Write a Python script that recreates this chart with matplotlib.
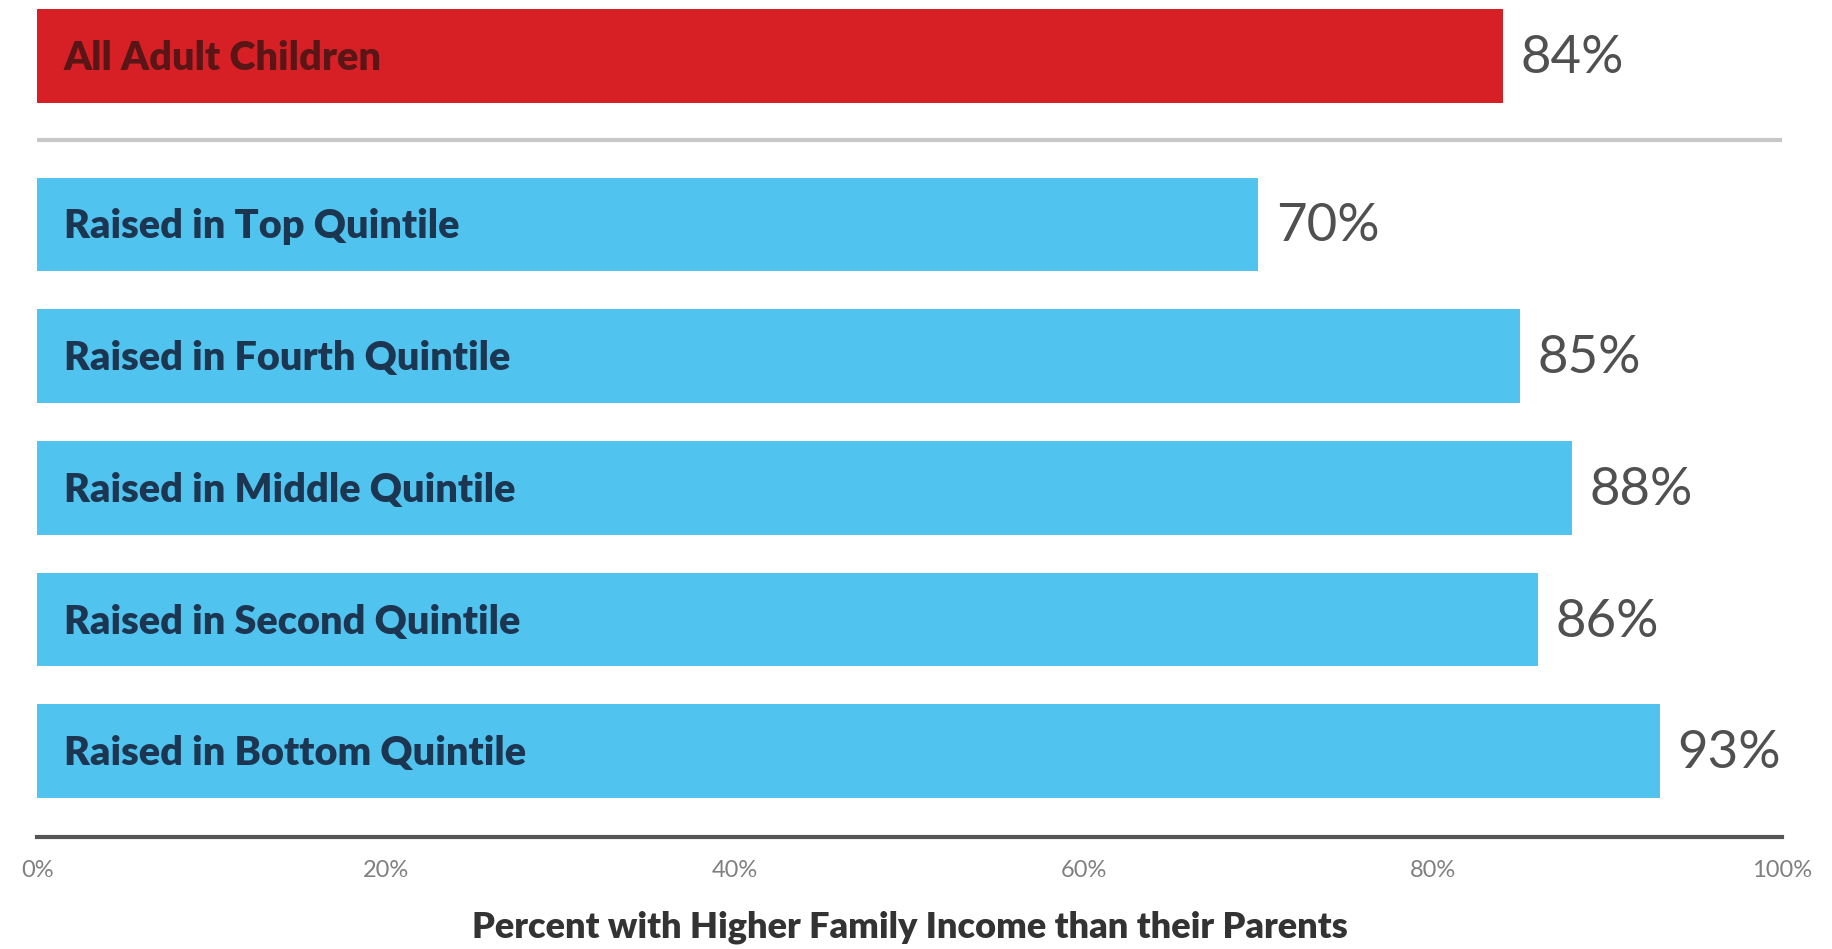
import matplotlib.pyplot as plt

# Donnees
groupes = ["All Adult Children", "Raised in Top Quintile", "Raised in Fourth Quintile",
           "Raised in Middle Quintile", "Raised in Second Quintile", "Raised in Bottom Quintile"]
valeurs = [84, 70, 85, 88, 86, 93]
ticks = [0, 20, 40, 60, 80, 100]
tick_labels = ["0%", "20%", "40%", "60%", "80%", "100%"]
xlabel = "Percent with Higher Family Income than their Parents"

rouge = "#D71F26"
bleu = "#50C3EF"

# positions verticales : la barre rouge est separee des quintiles
positions = [0] + [1.277 + i for i in range(5)]
couleurs = [rouge] + [bleu] * 5

fig = plt.figure(figsize=(18.32, 9.49), dpi=100)
ax = fig.add_axes([0.0204, 0.1185, 0.9522, 0.8815])

ax.barh(positions, valeurs, height=0.71, color=couleurs)

for pos, val, nom, c in zip(positions, valeurs, groupes, couleurs):
    couleur_txt = "#5a1616" if c == rouge else "#1C3550"
    ax.text(1.5, pos + 0.02, nom, va="center", ha="left", fontsize=28.5, fontweight="heavy",
            color=couleur_txt, family="Lato")
    ax.text(val + 1.0, pos + 0.02, f"{val}%", va="center", ha="left", fontsize=38,
            fontweight="normal", color="#505050", family="Lato")

# ligne de separation grise
ax.axhline(0.64, color="#C8C8C8", linewidth=3)

ax.set_xlim(0, 100)
ax.set_ylim(5.925, -0.426)
ax.set_yticks([])
ax.set_xticks(ticks)
ax.set_xticklabels(tick_labels, family="Lato", fontsize=17, color="#808080")
ax.tick_params(axis="x", length=0, pad=17)

for s in ["top", "right", "left"]:
    ax.spines[s].set_visible(False)
ax.spines["bottom"].set_color("#555555")
ax.spines["bottom"].set_linewidth(3)

ax.set_xlabel(xlabel, family="Lato", fontsize=26, fontweight="heavy", color="#333333", labelpad=21)

plt.savefig("out.png", dpi=100)
